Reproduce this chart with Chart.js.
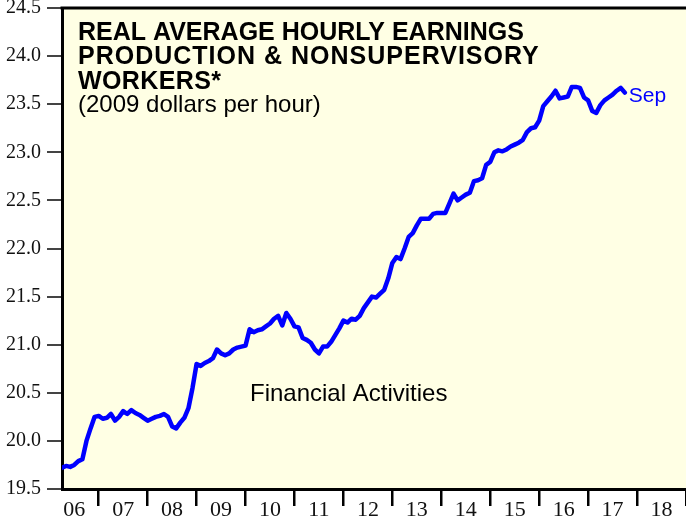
<!DOCTYPE html>
<html>
<head>
<meta charset="utf-8">
<script src="https://cdn.jsdelivr.net/npm/chart.js@4.4.1/dist/chart.umd.min.js"></script>
<style>
  html, body { margin: 0; background: #fff; }
  #wrap { width: 686px; height: 523px; position: relative; }
</style>
</head>
<body>
<div id="wrap"><canvas id="chart"></canvas></div>
<script>
// ---- data (monthly, Mar 2006 .. Sep 2017) ----
const startYear = 2006;
const startMonth = 3;

const earnings = [
  // 2006 Mar-Dec
  19.72, 19.74, 19.73, 19.75, 19.79, 19.81, 20.00, 20.13, 20.25, 20.26,
  // 2007
  20.23, 20.24, 20.28, 20.21, 20.25, 20.31, 20.28, 20.32, 20.29, 20.27, 20.24, 20.21,
  // 2008
  20.23, 20.25, 20.26, 20.28, 20.25, 20.15, 20.13, 20.19, 20.24, 20.34, 20.55, 20.80,
  // 2009
  20.78, 20.81, 20.83, 20.86, 20.95, 20.91, 20.89, 20.91, 20.95, 20.97, 20.98, 20.99,
  // 2010
  21.16, 21.13, 21.15, 21.16, 21.19, 21.22, 21.27, 21.30, 21.20, 21.33, 21.27, 21.19,
  // 2011
  21.18, 21.07, 21.05, 21.02, 20.95, 20.91, 20.98, 20.98, 21.03, 21.10, 21.17, 21.25,
  // 2012
  21.23, 21.27, 21.26, 21.30, 21.38, 21.44, 21.50, 21.49, 21.53, 21.57, 21.69, 21.85,
  // 2013
  21.91, 21.89, 22.00, 22.12, 22.16, 22.24, 22.31, 22.31, 22.31, 22.36, 22.37, 22.37,
  // 2014
  22.37, 22.47, 22.57, 22.50, 22.53, 22.56, 22.58, 22.70, 22.71, 22.73, 22.87, 22.90,
  // 2015
  23.00, 23.02, 23.01, 23.03, 23.06, 23.08, 23.10, 23.13, 23.21, 23.25, 23.26, 23.33,
  // 2016
  23.48, 23.53, 23.58, 23.64, 23.56, 23.57, 23.58, 23.68, 23.68, 23.67, 23.57, 23.54,
  // 2017 Jan-Sep
  23.43, 23.41, 23.49, 23.54, 23.57, 23.60, 23.64, 23.67, 23.62
];

const yearLabels = ['06', '07', '08', '09', '10', '11', '12', '13', '14', '15', '16', '17', '18'];
const yTicks = [19.5, 20.0, 20.5, 21.0, 21.5, 22.0, 22.5, 23.0, 23.5, 24.0, 24.5];

const titleLines = ['REAL AVERAGE HOURLY EARNINGS', 'PRODUCTION & NONSUPERVISORY', 'WORKERS*'];
const titleSpacing = ['0px', '1px', '0.4px'];
const subTitle = '(2009 dollars per hour)';
const seriesName = 'Financial Activities';
const lastLabel = 'Sep';

// ---- colours / fonts ----
const BLUE = '#0000ff';
const PAPER = '#ffffe4';
const SANS = "'Liberation Sans', Arial, Helvetica, sans-serif";
const SERIF = "'Liberation Serif', 'Times New Roman', serif";

const points = earnings.map((v, i) => ({ x: startYear + (startMonth + i) / 12, y: v }));

const framePlugin = {
  id: 'frame',
  beforeDraw(chart) {
    const { ctx, chartArea: a } = chart;
    ctx.save();
    ctx.fillStyle = PAPER;
    ctx.fillRect(a.left, a.top, a.right - a.left, a.bottom - a.top);
    ctx.restore();
  },
  afterDraw(chart) {
    const { ctx, chartArea: a } = chart;
    ctx.save();
    // top border
    ctx.strokeStyle = '#000';
    ctx.lineWidth = 3;
    ctx.beginPath();
    ctx.moveTo(a.left - 1.5, a.top);
    ctx.lineTo(a.right + 2, a.top);
    ctx.stroke();

    // title block
    ctx.fillStyle = '#000';
    ctx.textAlign = 'left';
    ctx.textBaseline = 'alphabetic';
    ctx.font = 'bold 25px ' + SANS;
    titleLines.forEach((t, i) => {
      ctx.letterSpacing = titleSpacing[i];
      ctx.fillText(t, a.left + 16, 39.5 + i * 24.5);
    });
    ctx.letterSpacing = '0px';
    ctx.font = '24px ' + SANS;
    ctx.fillText(subTitle, a.left + 16, 112);

    // series name
    ctx.fillText(seriesName, 250, 401);

    // end label
    const xs = chart.scales.x, ys = chart.scales.y;
    const last = points[points.length - 1];
    ctx.fillStyle = BLUE;
    ctx.font = '21px ' + SANS;
    ctx.fillText(lastLabel, xs.getPixelForValue(last.x) + 4, ys.getPixelForValue(last.y) + 9);
    ctx.restore();
  }
};

new Chart(document.getElementById('chart'), {
  type: 'line',
  data: {
    datasets: [{
      data: points,
      borderColor: BLUE,
      borderWidth: 4.5,
      pointRadius: 0,
      tension: 0,
      borderJoinStyle: 'round',
      borderCapStyle: 'round',
      fill: false
    }]
  },
  options: {
    responsive: true,
    maintainAspectRatio: false,
    animation: false,
    layout: { padding: { top: 8, right: 0, left: 0, bottom: 0 } },
    plugins: { legend: { display: false }, tooltip: { enabled: false } },
    scales: {
      x: {
        type: 'linear',
        min: 2006.25,
        max: 2019,
        afterBuildTicks: s => { s.ticks = yearLabels.map((_, i) => ({ value: startYear + 0.5 + i })); },
        afterFit: s => { s.height = 34; s.paddingLeft = 0; s.paddingRight = 0; },
        grid: { offset: true, drawOnChartArea: false, tickLength: 17, color: '#000', lineWidth: 2.5 },
        border: { display: true, color: '#000', width: 3 },
        ticks: {
          autoSkip: false, maxRotation: 0, padding: -9,
          color: '#111', font: { family: SERIF, size: 22 },
          callback: (v, i) => yearLabels[i]
        }
      },
      y: {
        min: 19.5,
        max: 24.5,
        afterBuildTicks: s => { s.ticks = yTicks.map(v => ({ value: v })); },
        afterFit: s => { s.width = 62; s.paddingTop = 0; s.paddingBottom = 0; },
        grid: { drawOnChartArea: false, tickLength: 15, color: '#444', lineWidth: 2 },
        border: { display: true, color: '#000', width: 3 },
        ticks: {
          padding: 6,
          color: '#111', font: { family: SERIF, size: 20 },
          callback: v => v.toFixed(1)
        }
      }
    }
  },
  plugins: [framePlugin]
});
</script>
</body>
</html>
